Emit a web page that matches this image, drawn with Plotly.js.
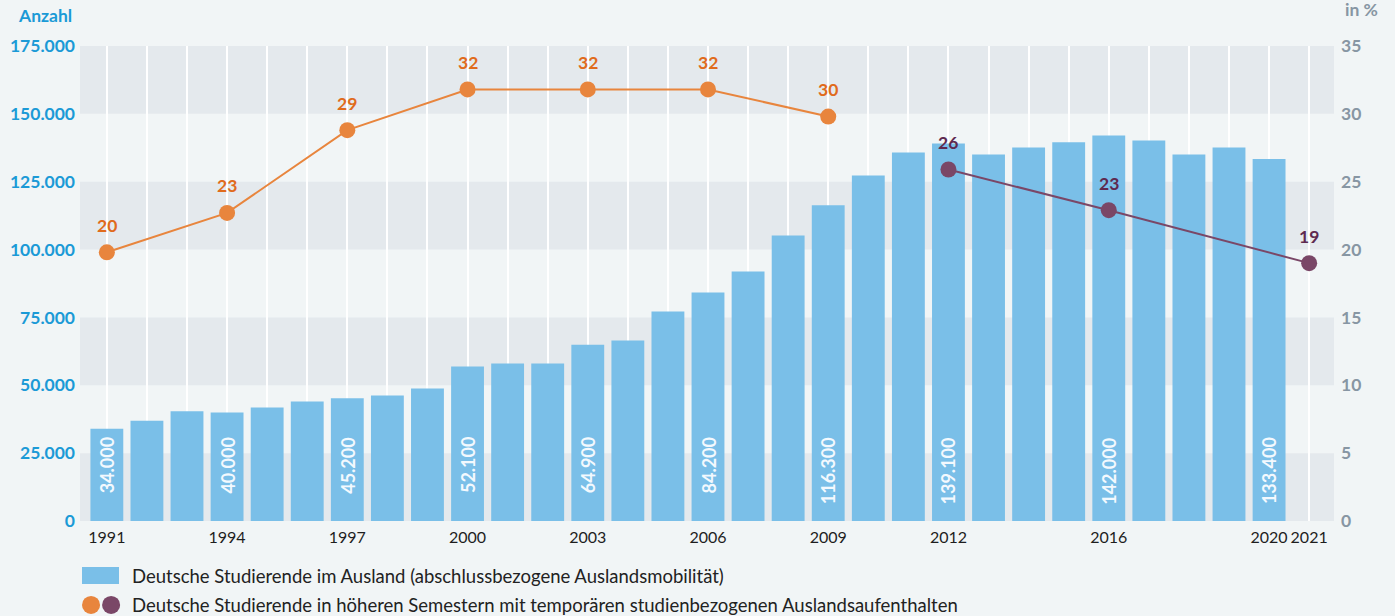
<!DOCTYPE html>
<html>
<head>
<meta charset="utf-8">
<script src="https://cdn.plot.ly/plotly-3.0.1.min.js"></script>
<style>html,body{margin:0;padding:0;background:#f1f5f6;}#chart{width:1395px;height:616px;}</style>
</head>
<body>
<div id="chart"></div>
<script>
// ---- data ----
const years = [1991,1992,1993,1994,1995,1996,1997,1998,1999,2000,2001,2002,2003,2004,2005,2006,2007,2008,2009,2010,2011,2012,2013,2014,2015,2016,2017,2018,2019,2020];
const studentsAbroad = [34000,36900,40400,40000,41800,44000,45200,46200,48800,56900,58000,58000,64900,66500,77200,84200,91900,105200,116300,127300,135800,139100,135000,137600,139500,142000,140200,135000,137600,133400];
const barLabelYears = [1991,1994,1997,2000,2003,2006,2009,2012,2016,2020];
const barLabels = ["34.000","40.000","45.200","52.100","64.900","84.200","116.300","139.100","142.000","133.400"];
const mobilityYearsA = [1991,1994,1997,2000,2003,2006,2009];
const mobilityA = [19.8,22.7,28.8,31.8,31.8,31.8,29.8];
const mobilityLabelsA = ["20","23","29","32","32","32","30"];
const mobilityYearsB = [2012,2016,2021];
const mobilityB = [25.9,22.9,19.0];
const mobilityLabelsB = ["26","23","19"];
const xTickVals = [1991,1994,1997,2000,2003,2006,2009,2012,2016,2020,2021];
const leftTicks = [0,25000,50000,75000,100000,125000,150000,175000];
const rightTicks = [0,5,10,15,20,25,30,35];
const legendBar = "Deutsche Studierende im Ausland (abschlussbezogene Auslandsmobilität)";
const legendLine = "Deutsche Studierende in höheren Semestern mit temporären studienbezogenen Auslandsaufenthalten";

const FONT = "Lato, 'Source Sans Pro', 'Noto Sans', sans-serif";
const BLUE_TXT = "#1b9ad6";
const GRAY_TXT = "#8796a3";
const ORANGE = "#e8853d";
const ORANGE_TXT = "#e06b1c";
const PURPLE = "#7a4767";
const PURPLE_TXT = "#5e2a50";
const BAR = "#7abfe8";
const BAND = "#e4e9ed";

const traces = [
  {type:'bar', x:years, y:studentsAbroad, marker:{color:BAR}, width:0.82,
   hoverinfo:'x+y', showlegend:false},
  {type:'scatter', mode:'lines+markers', x:mobilityYearsA, y:mobilityA, yaxis:'y2',
   line:{color:ORANGE, width:2}, marker:{color:ORANGE, size:16}, cliponaxis:false, showlegend:false},
  {type:'scatter', mode:'lines+markers', x:mobilityYearsB, y:mobilityB, yaxis:'y2',
   line:{color:PURPLE, width:2}, marker:{color:PURPLE, size:16}, cliponaxis:false, showlegend:false}
];

const shapes = [];
for (let i = 0; i < leftTicks.length - 1; i += 2) {
  shapes.push({type:'rect', layer:'below', xref:'paper', x0:0, x1:1, yref:'y',
    y0:leftTicks[i], y1:leftTicks[i+1], fillcolor:BAND, line:{width:0}});
}
// legend symbols
shapes.push({type:'rect', xref:'paper', yref:'paper', x0:0.0016, x1:0.0311, y0:-0.0968, y1:-0.1326, fillcolor:BAR, line:{width:0}});
shapes.push({type:'circle', xref:'paper', yref:'paper', x0:0.0016, x1:0.0160, y0:-0.1578, y1:-0.1958, fillcolor:ORANGE, line:{width:0}});
shapes.push({type:'circle', xref:'paper', yref:'paper', x0:0.0176, x1:0.0320, y0:-0.1578, y1:-0.1958, fillcolor:PURPLE, line:{width:0}});

const annotations = [];
barLabelYears.forEach((yr, i) => {
  annotations.push({x:yr, y:31500, xref:'x', yref:'y', text:'<b>' + barLabels[i] + '</b>', showarrow:false,
    textangle:-90, yanchor:'top', xanchor:'center',
    font:{family:FONT, size:18, color:'#f3f9fe'}});
});
mobilityYearsA.forEach((yr, i) => {
  annotations.push({x:yr, y:mobilityA[i], xref:'x', yref:'y2', text:'<b>' + mobilityLabelsA[i] + '</b>', showarrow:false,
    yanchor:'middle', yshift:27, font:{family:FONT, size:17.5, color:ORANGE_TXT}});
});
mobilityYearsB.forEach((yr, i) => {
  annotations.push({x:yr, y:mobilityB[i], xref:'x', yref:'y2', text:'<b>' + mobilityLabelsB[i] + '</b>', showarrow:false,
    yanchor:'middle', yshift:27, font:{family:FONT, size:17.5, color:PURPLE_TXT}});
});
annotations.push({xref:'paper', yref:'paper', x:-0.0048, y:1.037, xanchor:'right', yanchor:'bottom',
  text:'<b>Anzahl</b>', showarrow:false, font:{family:FONT, size:17.5, color:BLUE_TXT}});
annotations.push({xref:'paper', yref:'paper', x:1.0072, y:1.05, xanchor:'left', yanchor:'bottom',
  text:'<b>in %</b>', showarrow:false, font:{family:FONT, size:17.5, color:GRAY_TXT}});
annotations.push({xref:'paper', yref:'paper', x:0.0399, y:-0.1158, xanchor:'left', yanchor:'middle',
  text:legendBar, showarrow:false, font:{family:FONT, size:18.5, color:'#222'}});
annotations.push({xref:'paper', yref:'paper', x:0.0399, y:-0.1768, xanchor:'left', yanchor:'middle',
  text:legendLine, showarrow:false, font:{family:FONT, size:18.5, color:'#222'}});

const layout = {
  width:1395, height:616,
  margin:{l:80, r:61, t:46, b:95},
  paper_bgcolor:'#f1f5f6', plot_bgcolor:'#f1f5f6',
  separators:',.',
  font:{family:FONT},
  xaxis:{range:[1990.33, 2021.62], tickvals:xTickVals, ticks:'', tickangle:0, showgrid:true, gridcolor:'#ffffff', gridwidth:2,
    minor:{tick0:1991, dtick:1, showgrid:true, gridcolor:'#ffffff', gridwidth:2},
    zeroline:false, showline:false, tickfont:{family:FONT, size:16, color:'#1e1e1e'}, ticklabelstandoff:5, fixedrange:true},
  yaxis:{range:[0,175000], tickvals:leftTicks, tickformat:',d', showgrid:false, zeroline:false, showline:false,
    tickfont:{family:FONT, size:17.5, color:BLUE_TXT, weight:'bold'}, ticklabelstandoff:4, fixedrange:true},
  yaxis2:{range:[0,35], tickvals:rightTicks, overlaying:'y', side:'right', showgrid:false, zeroline:false, showline:false,
    tickfont:{family:FONT, size:17.5, color:GRAY_TXT, weight:'bold'}, ticklabelstandoff:6, fixedrange:true},
  shapes:shapes,
  annotations:annotations,
  showlegend:false
};

Plotly.newPlot('chart', traces, layout, {displayModeBar:false, staticPlot:true});
</script>
</body>
</html>
